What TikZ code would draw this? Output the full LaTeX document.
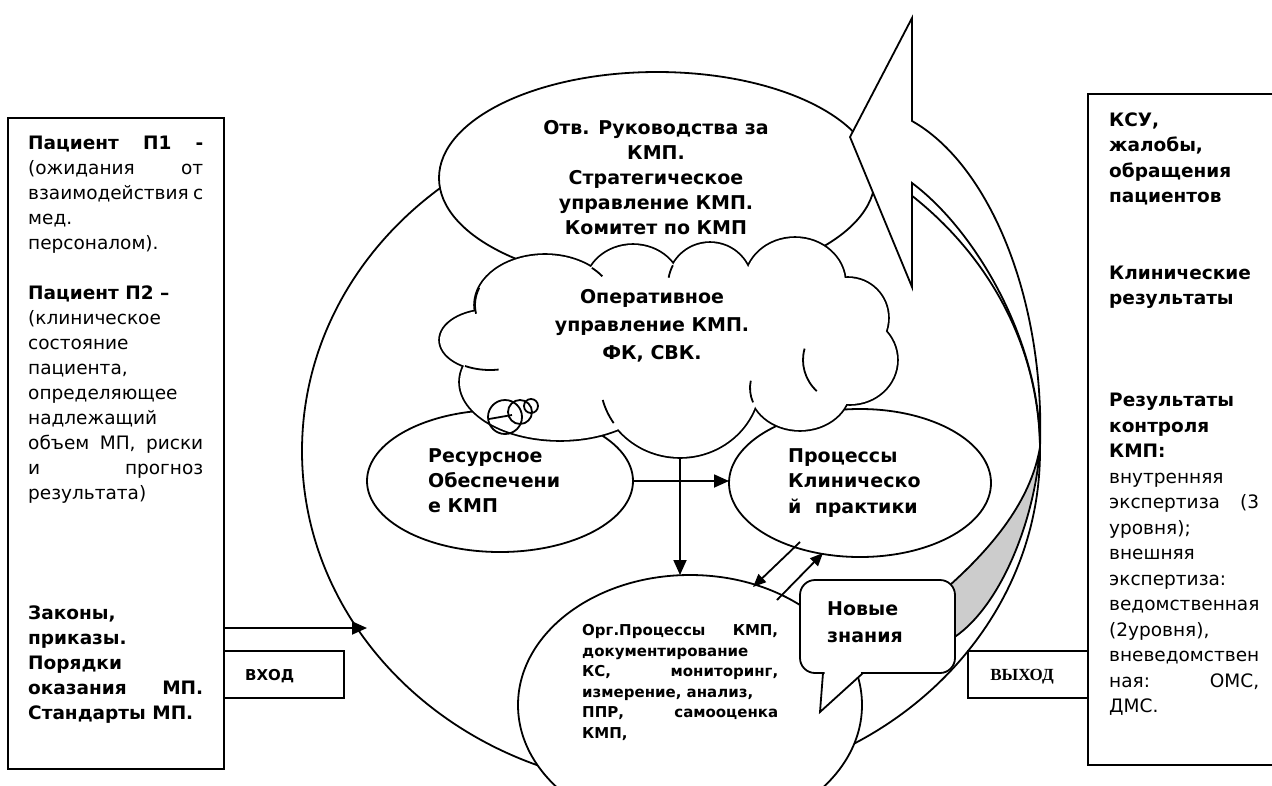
\documentclass[tikz,border=0pt]{standalone}
\usepackage{fontspec}
\setmainfont{DejaVu Sans}
\newfontfamily\timesfont{Liberation Serif}
\usetikzlibrary{arrows.meta,shapes.geometric}
\definecolor{bandgray}{RGB}{204,204,204}

% one typeset line: natural width, justified to \hsize, or centred in \hsize
\newcommand\lineL[1]{\hbox{#1}}
\newcommand\lineJ[1]{\hbox to\hsize{#1}}
\newcommand\lineC[1]{\hbox to\hsize{\hfil#1\hfil}}
\newcommand\blankline{\hbox{}}

% puffs of the cloud: centre x / centre y / x radius / y radius
\def\cloudpuffs{545/305/70/50, 633/288/48/43, 710/285/42/42, 795/283/50/45,
  848/318/40/40, 850/360/47/44, 800/388/50/42, 680/380/80/77,
  560/382/100/58, 490/340/50/30, 660/345/150/65, 620/400/40/25, 800/335/40/35}

\tikzset{
  outline/.style={draw=black, line width=1.8pt},
  panel/.style={outline, fill=white, inner sep=0pt, outer sep=0pt},
  oval/.style={panel, ellipse},
  tip/.style={line width=1.8pt, -{Triangle[length=15pt,width=13pt]}},
  smalltip/.style={line width=1.8pt, -{Triangle[length=13pt,width=11pt]}},
  txt/.style={anchor=base west, inner sep=0pt},
  ctxt/.style={anchor=base, inner sep=0pt},
}

\begin{document}
\begin{tikzpicture}[x=1pt,y=-1pt]
\useasboundingbox (0,0) rectangle (1272,785);
\fill[white] (0,0) rectangle (1272,785);

% the large cycle
\node[oval, fill=none, minimum width=738, minimum height=674] (cycle) at (671,451) {};

% leadership oval
\node[oval, minimum width=436, minimum height=212] (lead) at (657,178) {};

% curved block arrow: head and white band
\draw[outline, fill=white] (912,121) -- (912,18) -- (850,137) -- (912,287) -- (912,183)
  .. controls (975,230) and (1040,340) .. (1040,447)
  .. controls (1045,300) and (990,165) .. (912,121) -- cycle;
% shaded underside of the band
\draw[outline, fill=bandgray] (1040,447) .. controls (1032,495) and (1000,540) .. (950,585)
  -- (950,640) .. controls (1000,610) and (1035,520) .. (1040,447) -- cycle;

% resources and clinical processes
\node[oval, minimum width=266, minimum height=142] (res) at (500,481) {};
\node[oval, minimum width=262, minimum height=148] (proc) at (860,483) {};

% cloud: union of puffs
\foreach \cx/\cy/\rx/\ry in \cloudpuffs
  {\draw[line width=3.6pt] (\cx,\cy) ellipse [x radius=\rx, y radius=\ry];}
\foreach \cx/\cy/\rx/\ry in \cloudpuffs
  {\fill[white] (\cx,\cy) ellipse [x radius=\rx, y radius=\ry];}
% inner strokes of the cloud
\draw[outline] (545,305) ++(-48:70 and 50) arc[start angle=-48, end angle=-35, x radius=70, y radius=50];
\draw[outline] (545,305) ++(200:70 and 50) arc[start angle=200, end angle=170, x radius=70, y radius=50];
\draw[outline] (490,340) ++(120:50 and 30) arc[start angle=120, end angle=80, x radius=50, y radius=30];
\draw[outline] (680,380) ++(146:80 and 77) arc[start angle=146, end angle=165, x radius=80, y radius=77];
\draw[outline] (800,388) ++(160:50 and 42) arc[start angle=160, end angle=190, x radius=50, y radius=42];
\draw[outline] (850,360) ++(195:47 and 44) arc[start angle=195, end angle=135, x radius=47, y radius=44];
\draw[outline] (710,285) ++(208:42 and 42) arc[start angle=208, end angle=190, x radius=42, y radius=42];
% thought bubbles
\draw[outline] (505,417) circle [radius=17];
\draw[outline] (520,412) circle [radius=12];
\draw[outline] (531,406) circle [radius=7];
\draw[outline] (489,419) -- (512,415);

% organisational processes
\node[oval, minimum width=344, minimum height=260] (org) at (690,705) {};

% "new knowledge" callout
\node[panel, rounded corners=15pt, minimum width=155, minimum height=93, anchor=north west] (newk) at (800,580) {};
\fill[white] (824.5,671) -- (824.5,675) -- (820,712) -- (860.8,675) -- (860.8,671) -- cycle;
\draw[outline, line join=miter] (823,673) -- (820,712) -- (863,673);

% connectors
\coordinate (cloudfoot) at (680,457);
\draw[tip] (cloudfoot) -- (cloudfoot |- org.north);
\draw[tip] (res.east) -- (res.east -| proc.west);
\coordinate (d1s) at (800,542); \coordinate (d1e) at (753,587);
\coordinate (d2s) at (777,600); \coordinate (d2e) at (823,553);
\draw[smalltip] (d1s) -- (d1e);
\draw[smalltip] (d2s) -- (d2e);

% side panels
\node[panel, minimum width=216, minimum height=651, anchor=north west] (inbox) at (8,118) {};
\node[panel, minimum width=210, minimum height=671, anchor=north west] (outbox) at (1088,94) {};
\node[panel, minimum width=120, minimum height=47, anchor=north west] (inlabel) at (224,651) {};
\node[panel, minimum width=120, minimum height=47, anchor=north west] (outlabel) at (968,651) {};
\coordinate (inlet) at (367,628);
\draw[tip] (inbox.east |- inlet) -- (inlet);

% texts
\node[txt] (intext) at (28,149) {\vtop{\hsize=175pt\fontsize{18.5}{25}\selectfont
  \lineJ{\bfseries Пациент П1 -}
  \lineJ{(ожидания от}
  \lineJ{взаимодействия с}
  \lineL{мед.}
  \lineL{персоналом).}
  \blankline
  \lineL{\bfseries Пациент П2 –}
  \lineL{(клиническое}
  \lineL{состояние}
  \lineL{пациента,}
  \lineL{определяющее}
  \lineL{надлежащий}
  \lineJ{объем МП, риски}
  \lineJ{и прогноз}
  \lineL{результата)}}};
\node[txt] (lawtext) at (28,619) {\vtop{\hsize=175pt\fontsize{18.5}{25}\selectfont\bfseries
  \lineL{Законы,}
  \lineL{приказы.}
  \lineL{Порядки}
  \lineJ{оказания МП.}
  \lineL{Стандарты МП.}}};
\node[txt] (outtext) at (1109,126) {\vtop{\hsize=150pt\fontsize{18.5}{25.5}\selectfont
  \lineL{\bfseries КСУ,}
  \lineL{\bfseries жалобы,}
  \lineL{\bfseries обращения}
  \lineL{\bfseries пациентов}
  \blankline\blankline
  \lineL{\bfseries Клинические}
  \lineL{\bfseries результаты}
  \blankline\blankline\blankline
  \lineL{\bfseries Результаты}
  \lineL{\bfseries контроля}
  \lineL{\bfseries КМП:}
  \lineL{внутренняя}
  \lineJ{экспертиза (3}
  \lineL{уровня);}
  \lineL{внешняя}
  \lineL{экспертиза:}
  \lineL{ведомственная}
  \lineL{(2уровня),}
  \lineL{вневедомствен}
  \lineJ{ная: ОМС,}
  \lineL{ДМС.}}};
\node[ctxt] (leadtext) at (656,134) {\vtop{\hsize=300pt\fontsize{19}{25}\selectfont\bfseries
  \lineC{Отв. Руководства за}
  \lineC{КМП.}
  \lineC{Стратегическое}
  \lineC{управление КМП.}
  \lineC{Комитет по КМП}}};
\node[ctxt] (cloudtext) at (652,303) {\vtop{\hsize=300pt\fontsize{19}{28}\selectfont\bfseries
  \lineC{Оперативное}
  \lineC{управление КМП.}
  \lineC{ФК, СВК.}}};
\node[txt] (restext) at (428,462) {\vtop{\fontsize{19}{25}\selectfont\bfseries
  \lineL{Ресурсное}
  \lineL{Обеспечени}
  \lineL{е КМП}}};
\node[txt] (proctext) at (788,462) {\vtop{\fontsize{19}{25.5}\selectfont\bfseries
  \lineL{Процессы}
  \lineL{Клиническо}
  \lineL{й\ \ практики}}};
\node[txt] (orgtext) at (582,635.5) {\vtop{\hsize=196pt\fontsize{15}{20.6}\selectfont\bfseries
  \lineJ{Орг.Процессы КМП,}
  \lineL{документирование}
  \lineJ{КС, мониторинг,}
  \lineL{измерение, анализ,}
  \lineJ{ППР, самооценка}
  \lineL{КМП,}}};
\node[txt] (newtext) at (827,615) {\vtop{\fontsize{19}{27}\selectfont\bfseries
  \lineL{Новые}
  \lineL{знания}}};
\node[txt] (intitle) at (245,680.5) {\fontsize{15}{18}\selectfont\bfseries ВХОД};
\node[ctxt] (outtitle) at (1022,680.5) {\timesfont\fontsize{17}{20}\selectfont\bfseries ВЫХОД};
\end{tikzpicture}
\end{document}
